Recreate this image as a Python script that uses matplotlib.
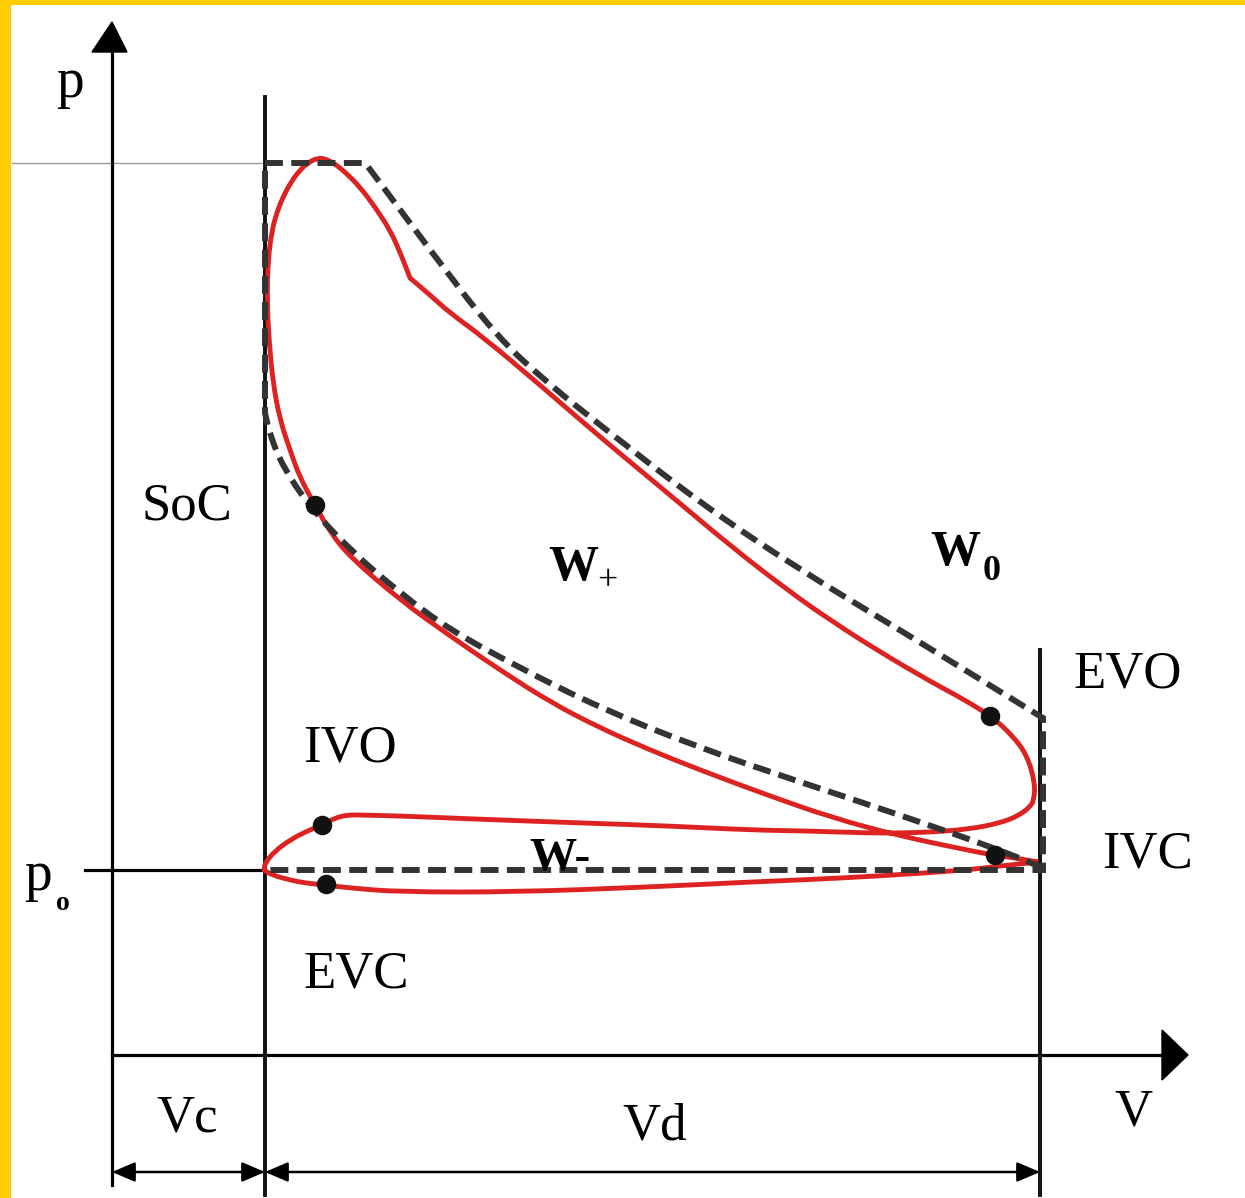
import matplotlib
matplotlib.use("Agg")
import matplotlib.pyplot as plt
from matplotlib.patches import Rectangle, Polygon, PathPatch
from matplotlib.path import Path

# ---- data (V, p) in chart units: V grows right, p drawn with inverted axis ----
# real (red) cycle, ordered from IVC through compression, combustion, expansion, exhaust, intake
real_V = [1038, 1015, 993, 967, 900, 833, 767, 700, 650, 600, 550, 500, 450, 400, 350, 330,
          315, 300, 290, 280, 273, 269, 267, 268, 272, 277, 283, 291, 300, 309, 318, 326,
          335, 345, 360, 375, 390, 400, 410, 430, 450, 483, 540, 600, 670, 733, 790, 833,
          880, 933, 965, 992, 1012, 1027, 1035, 1034, 1030, 1018, 1000, 970, 933, 900, 867,
          810, 750, 670, 583, 500, 450, 400, 360, 347, 335, 322, 305, 290, 275, 265, 264,
          272, 290, 305, 325, 350, 400, 517, 650, 750, 800, 880, 967, 1000, 1038]
real_p = [862, 858, 855, 850, 836, 818, 795, 770, 750, 728, 702, 670, 636, 600, 557, 532,
          505, 478, 450, 420, 383, 340, 300, 260, 230, 212, 197, 182, 170, 162, 158, 159,
          164, 172, 187, 207, 230, 252, 278, 295, 313, 337, 385, 437, 495, 548, 592, 622,
          652, 683, 700, 717, 735, 755, 783, 800, 807, 816, 823, 829, 832, 833, 833,
          831, 830, 826, 823, 820, 818, 816, 815, 815, 818, 825, 832, 840, 851, 863, 870,
          875, 880, 883, 885, 888, 892, 892, 887, 882, 880, 876, 870, 866, 862]
real_corners = [38, 78]          # combustion kink and TDC tip stay sharp

# ideal (dashed) cycle: top, expansion, blowdown, exhaust/intake line
ideal_top_V = [265, 365, 372, 430, 497, 550, 600, 700, 800, 900, 1043, 1043, 265]
ideal_top_p = [163, 163, 172, 250, 337, 385, 425, 503, 570, 630, 718, 870, 870]
ideal_top_corners = [1, 10, 11]
# ideal compression
ideal_comp_V = [1043, 1000, 900, 800, 700, 600, 520, 450, 400, 350, 310, 283, 270, 265, 265]
ideal_comp_p = [868, 850, 815, 782, 748, 708, 668, 630, 593, 550, 507, 467, 435, 413, 163]
ideal_comp_corners = [13]

# valve event points: SoC, EVO, IVO, EVC, IVC
event_V = [315, 990, 322, 326, 995]
event_p = [505, 716, 825, 884, 855]

# reference levels
V_axis0, V_tdc, V_bdc = 112, 265, 1040
p_axis0, p_o, p_max = 1055, 870, 163

labels = ["SoC", "EVO", "IVO", "IVC", "EVC", "Vc", "Vd", "V"]
label_V = [187, 1128, 350, 1148, 356, 187, 655, 1133]
label_p = [520, 687, 762, 868, 988, 1132, 1140, 1125]

RED = "#dd2222"
DASH = "#333333"
SERIF = ["Liberation Serif", "DejaVu Serif"]


def smooth_path(xs, ys, corners=()):
    """Quadratic-Bezier rendering through segment midpoints; corner vertices stay sharp."""
    pts = list(zip(xs, ys))
    n = len(pts)
    mid = lambda a, b: ((a[0] + b[0]) / 2, (a[1] + b[1]) / 2)
    verts = [pts[0], mid(pts[0], pts[1])]
    codes = [Path.MOVETO, Path.LINETO]
    for i in range(1, n - 1):
        m = mid(pts[i], pts[i + 1])
        verts += [pts[i], m]
        if i in corners:
            codes += [Path.LINETO, Path.LINETO]
        else:
            codes += [Path.CURVE3, Path.CURVE3]
    verts.append(pts[-1])
    codes.append(Path.LINETO)
    return Path(verts, codes)


fig = plt.figure(figsize=(12.45, 11.98), dpi=100)
ax = fig.add_axes([0, 0, 1, 1])
ax.set_xlim(0, 1245)
ax.set_ylim(1198, 0)
ax.axis("off")

# yellow frame strips
ax.add_patch(Rectangle((0, 0), 11, 1198, color="#ffcc00", lw=0, zorder=0))
ax.add_patch(Rectangle((0, 0), 1245, 5, color="#ffcc00", lw=0, zorder=0))

# pmax thin grey line
ax.plot([12, V_tdc], [p_max, p_max], color="#9a9a9a", lw=1.0, zorder=1)

# axes
ax.plot([V_axis0, V_axis0], [1185, 45], color="black", lw=2.3, zorder=2)
ax.add_patch(Polygon([[V_axis0, 22], [V_axis0 - 20, 52], [V_axis0 + 15, 52]],
                     closed=True, color="black", zorder=2))
ax.plot([V_axis0, 1165], [p_axis0, p_axis0], color="black", lw=2.3, zorder=2)
ax.add_patch(Polygon([[1188, p_axis0], [1162, p_axis0 - 25], [1162, p_axis0 + 25]],
                     closed=True, color="black", zorder=2))
# TDC / BDC lines
ax.plot([V_tdc, V_tdc], [97, 1195], color="#111111", lw=2.8, zorder=2)
ax.plot([V_bdc, V_bdc], [650, 1195], color="#111111", lw=2.8, zorder=2)
# p0 line
ax.plot([85, V_tdc], [p_o, p_o], color="black", lw=2.3, zorder=2)

# dimension arrows
for a, b in [(V_axis0, V_tdc), (V_tdc, V_bdc)]:
    ax.annotate("", xy=(b, 1172), xytext=(a, 1172),
                arrowprops=dict(arrowstyle="<|-|>,head_length=0.7,head_width=0.3",
                                color="black", lw=1.8, shrinkA=0, shrinkB=0,
                                mutation_scale=20), zorder=3)

# real cycle
ax.add_patch(PathPatch(smooth_path(real_V, real_p, real_corners), fill=False,
                       edgecolor=RED, lw=3.5, joinstyle="round", zorder=4))
# ideal cycle
for xs, ys, cs in [(ideal_top_V, ideal_top_p, ideal_top_corners),
                   (ideal_comp_V, ideal_comp_p, ideal_comp_corners)]:
    ax.add_patch(PathPatch(smooth_path(xs, ys, cs), fill=False, edgecolor=DASH, lw=4.3,
                           linestyle=(0, (3.0, 1.4)), capstyle="butt", zorder=5))
# events
ax.scatter(event_V, event_p, s=170, color="#111111", zorder=6)

# labels
for t, x, y in zip(labels, label_V, label_p):
    ax.text(x, y, t, ha="center", va="baseline", fontsize=38, family=SERIF, zorder=7)
ax.text(70, 97, "p", ha="center", va="baseline", fontsize=40, family=SERIF)
ax.text(38, 890, "p", ha="center", va="baseline", fontsize=40, family=SERIF)
ax.text(63, 910, "o", ha="center", va="baseline", fontsize=20, family=SERIF, weight="bold")
ax.text(573, 580, "W", ha="center", va="baseline", fontsize=36, family=SERIF, weight="bold")
ax.text(607, 590, "+", ha="center", va="baseline", fontsize=26, family=SERIF)
ax.text(955, 565, "W", ha="center", va="baseline", fontsize=36, family=SERIF, weight="bold")
ax.text(992, 580, "0", ha="center", va="baseline", fontsize=26, family=SERIF, weight="bold")
ax.text(560, 870, "W-", ha="center", va="baseline", fontsize=34, family=SERIF, weight="bold",
        zorder=7)

fig.savefig("out.png", dpi=100)
